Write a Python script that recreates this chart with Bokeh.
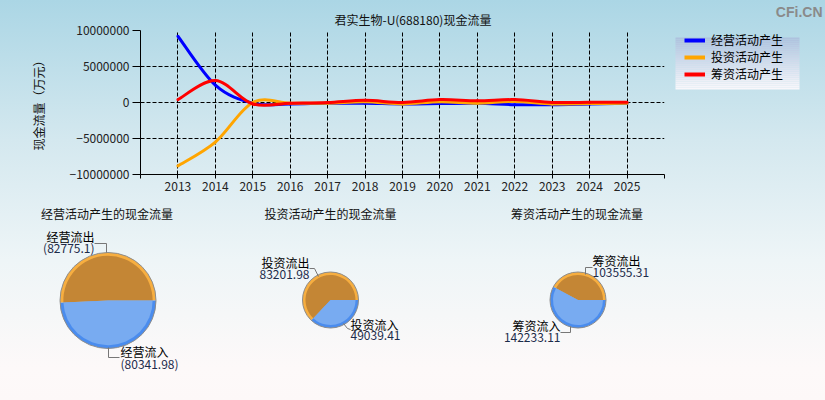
import math
from bokeh.plotting import figure
from bokeh.models import (Range1d, FixedTicker, Legend, LegendItem,
                          BasicTickFormatter)
from bokeh.layouts import column, row
from bokeh.embed import file_html
from bokeh.resources import INLINE
from bokeh.core.properties import value

# ---------------- data ----------------
years = [2013, 2014, 2015, 2016, 2017, 2018, 2019, 2020, 2021, 2022, 2023, 2024, 2025]
operating = [9200000, 2400000, -100000, -200000, -100000, -100000, -200000,
             -150000, -100000, -300000, -300000, -200000, -100000]
investing = [-8800000, -5500000, 0, -100000, -100000, 100000, -200000,
             100000, -100000, 150000, -200000, -150000, -100000]
financing = [400000, 3050000, -200000, -100000, 0, 300000, 0,
             400000, 250000, 400000, 0, 50000, 30000]
series_names = ["经营活动产生", "投资活动产生", "筹资活动产生"]
y_ticks = [-10000000, -5000000, 0, 5000000, 10000000]

chart_title = "君实生物-U(688180)现金流量"
y_axis_label = "现金流量（万元）"
watermark = "CFi.CN"

pie_titles = ["经营活动产生的现金流量", "投资活动产生的现金流量", "筹资活动产生的现金流量"]
pie_out_names = ["经营流出", "投资流出", "筹资流出"]
pie_in_names = ["经营流入", "投资流入", "筹资流入"]
pie_out_values = [82775.1, 83201.98, 103555.31]
pie_in_values = [80341.98, 49039.41, 142233.11]
pie_value_parens = [True, False, False]

FONT = "Noto Sans CJK SC"
COLORS = ["#0000ff", "#ffa500", "#ff0000"]


def no_align(fig):
    if "frame_align" in fig.properties():
        fig.frame_align = False


# ---------------- line chart ----------------
p = figure(width=668, height=200,
           x_range=Range1d(years[0] - 1, years[-1] + 1),
           y_range=Range1d(y_ticks[0], y_ticks[-1]),
           output_backend="svg", toolbar_location=None,
           min_border_left=140, min_border_right=4,
           min_border_top=30, min_border_bottom=26)
no_align(p)
p.background_fill_color = None
p.border_fill_color = None
p.outline_line_color = None

p.title.text = chart_title
p.title.align = "left"
p.title.offset = 194
p.title.standoff = 5
p.title.text_font = FONT
p.title.text_font_size = "12px"
p.title.text_font_style = "normal"
p.title.text_color = "#111111"

all_ticks = list(range(years[0] - 1, years[-1] + 2))
p.xaxis.ticker = FixedTicker(ticks=all_ticks)
p.xaxis.major_label_overrides = {years[0] - 1: "", years[-1] + 1: ""}
p.yaxis.ticker = FixedTicker(ticks=y_ticks)
p.yaxis.formatter = BasicTickFormatter(use_scientific=False)
for ax in (p.xaxis, p.yaxis):
    ax.axis_line_color = "black"
    ax.major_tick_line_color = "black"
    ax.minor_tick_line_color = None
    ax.major_tick_in = 0
    ax.major_label_text_font = FONT
    ax.major_label_text_font_size = "12px"
    ax.major_label_text_color = "#222222"
p.yaxis.major_tick_out = 8
p.yaxis.major_label_standoff = 3
p.xaxis.major_tick_out = 4
p.xaxis.major_label_standoff = 3
p.yaxis.axis_label = y_axis_label
p.yaxis.axis_label_text_font = FONT
p.yaxis.axis_label_text_font_size = "12px"
p.yaxis.axis_label_text_font_style = "normal"
p.yaxis.axis_label_text_color = "#111111"
p.yaxis.axis_label_standoff = 20

for g in (p.xgrid, p.ygrid):
    g.grid_line_color = "black"
    g.grid_line_dash = "4 2"
    g.grid_line_width = 1
    g.grid_line_alpha = 1.0


def smooth_segments(xs, ys):
    n = len(xs)
    out = {k: [] for k in ("x0", "y0", "x1", "y1", "cx0", "cy0", "cx1", "cy1")}
    for i in range(n - 1):
        xa, ya = xs[i], ys[i]
        xb, yb = xs[i + 1], ys[i + 1]
        xp, yp = (xs[i - 1], ys[i - 1]) if i > 0 else (xa, ya)
        xn, yn = (xs[i + 2], ys[i + 2]) if i + 2 < n else (xb, yb)
        out["x0"].append(xa); out["y0"].append(ya)
        out["x1"].append(xb); out["y1"].append(yb)
        out["cx0"].append(xa + (xb - xp) / 6.0)
        out["cy0"].append(ya + (yb - yp) / 6.0)
        out["cx1"].append(xb - (xn - xa) / 6.0)
        out["cy1"].append(yb - (yn - ya) / 6.0)
    return out


series_vals = [operating, investing, financing]
for name, vals, col in zip(series_names, series_vals, COLORS):
    seg = smooth_segments(years, vals)
    p.bezier(line_color=col, line_width=3, line_cap="round", **seg)

# ---------------- side panel: legend + watermark ----------------
SX0, SW, SH = 668, 157, 200
s = figure(width=SW, height=SH, x_range=Range1d(SX0, SX0 + SW), y_range=Range1d(0, SH),
           x_axis_type=None, y_axis_type=None, output_backend="svg",
           toolbar_location=None, min_border=0)
no_align(s)
s.background_fill_color = None
s.border_fill_color = None
s.outline_line_color = None
s.grid.visible = False

# legend box with vertical gradient (page coords: x 675..799, y 37..89)
top_rgb = (174, 194, 222)
bot_rgb = (249, 247, 251)
n_strips = 26
box_top, box_bot = 37.0, 89.0
lefts, rights, tops, bottoms, fills = [], [], [], [], []
for k in range(n_strips):
    t = k / (n_strips - 1)
    c = tuple(int(round(top_rgb[j] + (bot_rgb[j] - top_rgb[j]) * t)) for j in range(3))
    y_a = box_top + (box_bot - box_top) * k / n_strips
    y_b = box_top + (box_bot - box_top) * (k + 1) / n_strips
    lefts.append(675); rights.append(799)
    tops.append(SH - y_a); bottoms.append(SH - y_b)
    fills.append("#%02x%02x%02x" % c)
s.quad(left=lefts, right=rights, top=tops, bottom=bottoms, fill_color=fills, line_color=None)

items = []
for name, vals, col in zip(series_names, series_vals, COLORS):
    r = s.line(x=years, y=vals, line_color=col, line_width=4, visible=False)
    items.append(LegendItem(label=name, renderers=[r]))
legend = Legend(items=items, location=(684 - SX0, SH - 82), padding=0, spacing=0,
                glyph_width=21, glyph_height=14, label_height=14,
                label_standoff=6, margin=0,
                background_fill_alpha=0.0, border_line_color=None,
                label_text_font=FONT, label_text_font_size="12px",
                label_text_color="#000000")
s.add_layout(legend)

s.text(x=[822], y=[SH - 11], text=[watermark], text_align="right", text_baseline="middle",
       text_font=value("Liberation Sans"), text_font_size="14px",
       text_font_style="bold", text_color="#8a8a8a")

# ---------------- pies ----------------
q = figure(width=825, height=200, x_range=Range1d(0, 825), y_range=Range1d(0, 200),
           x_axis_type=None, y_axis_type=None, output_backend="svg",
           toolbar_location=None, min_border=0)
no_align(q)
q.background_fill_color = None
q.border_fill_color = None
q.outline_line_color = None
q.grid.visible = False

H = 400  # page height, converts page y to data y
centers = [(107.5, 300.0), (330.0, 299.5), (577.5, 299.5)]
radii = [48, 28, 28]
title_x = [106.5, 330.0, 576.5]

out_pos = [(94, 236, 247, "right"), (309, 262, 273.5, "right"), (592, 259.5, 271.5, "left")]
in_pos = [(120, 350.5, 362.5, "left"), (350, 323.5, 334.5, "left"), (560, 324.5, 336.5, "right")]
out_lead = [([94, 106, 106], [243, 243, 252]),
            ([309, 314, 318], [268, 268, 276]),
            ([585, 585, 592], [274, 267, 267])]
in_lead = [([108, 108, 119], [347, 357, 357]),
           ([343, 347, 350], [323, 328, 329]),
           ([560, 570, 570], [332, 332, 326])]

for i in range(3):
    cx, cy = centers[i]
    cy_d = H - cy
    r = radii[i]
    total = pie_out_values[i] + pie_in_values[i]
    a = 2 * math.pi * pie_out_values[i] / total
    q.wedge(x=[cx], y=[cy_d], radius=r, start_angle=0, end_angle=a,
            fill_color="#f7ae40", line_color=None)
    q.wedge(x=[cx], y=[cy_d], radius=r, start_angle=a, end_angle=2 * math.pi,
            fill_color="#4a8cee", line_color=None)
    ri = r - max(3, r * 0.07)
    q.wedge(x=[cx], y=[cy_d], radius=ri, start_angle=0, end_angle=a,
            fill_color="#c48635", line_color=None)
    q.wedge(x=[cx], y=[cy_d], radius=ri, start_angle=a, end_angle=2 * math.pi,
            fill_color="#78abf1", line_color=None)
    q.circle(x=[cx], y=[cy_d], radius=r, fill_color=None, line_color="#8c8c8c", line_width=1)

    q.text(x=[title_x[i]], y=[H - 212.5], text=[pie_titles[i]], text_align="center",
           text_baseline="middle", text_font=value(FONT), text_font_size="12px",
           text_color="#111111")

    def fmt(v, i=i):
        s_ = str(v)
        return "(" + s_ + ")" if pie_value_parens[i] else s_

    for (lx, yn, yv, al), name, v, lead in [
            (out_pos[i], pie_out_names[i], pie_out_values[i], out_lead[i]),
            (in_pos[i], pie_in_names[i], pie_in_values[i], in_lead[i])]:
        q.text(x=[lx, lx], y=[H - yn, H - yv], text=[name, fmt(v)], text_align=al,
               text_baseline="middle", text_font=value(FONT), text_font_size="12px",
               text_color=["#000000", "#1c2b4a"])
        q.line(x=lead[0], y=[H - t for t in lead[1]], line_color="#777777", line_width=1)

layout = column(row(p, s, spacing=0), q, spacing=0,
                styles={"background": "linear-gradient(180deg, #abd6e5 0%, #d4e8ef 35%, #eef5f7 65%, #fdf9f9 92%, #fdf8f8 100%)"})

open("out.html", "w").write(file_html(layout, INLINE))
